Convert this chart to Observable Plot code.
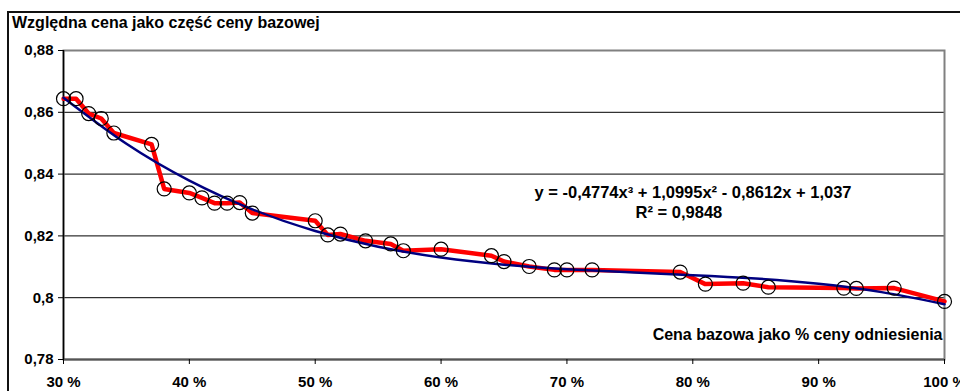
<!DOCTYPE html>
<html>
<head>
<meta charset="utf-8">
<script src="https://cdn.jsdelivr.net/npm/d3@7"></script>
<script src="https://cdn.jsdelivr.net/npm/@observablehq/plot@0.6"></script>
<style>
  html, body { margin: 0; padding: 0; background: #fff; overflow: hidden; }
  #wrap { position: relative; width: 960px; height: 391px; overflow: hidden; font-family: "Liberation Sans", Arial, sans-serif; }
  #frame { position: absolute; left: 7px; top: 11px; width: 1100px; height: 600px; border: 2px solid #111; box-sizing: border-box; }
  #title { position: absolute; left: 12px; top: 15px; font-size: 16px; line-height: 16px; font-weight: bold; color: #000; white-space: nowrap; }
  #chart { position: absolute; left: 0; top: 36px; }
  #chart svg { overflow: visible; max-width: none; }
</style>
</head>
<body>
<div id="wrap">
  <div id="frame"></div>
  <div id="title"></div>
  <div id="chart"></div>
</div>
<script>
// ---- data ----
const titleText = "Względna cena jako część ceny bazowej";
const xAxisTitle = "Cena bazowa jako % ceny odniesienia";
const equationLine = "y = -0,4774x³ + 1,0995x² - 0,8612x + 1,037";
const rSquaredLine = "R² = 0,9848";

// base price as share of reference price
const basePct = [0.30, 0.31, 0.32, 0.33, 0.34, 0.37, 0.38, 0.40, 0.41, 0.42, 0.43, 0.44, 0.45,
                 0.50, 0.51, 0.52, 0.54, 0.56, 0.57, 0.60, 0.64, 0.65, 0.67, 0.69, 0.70, 0.72,
                 0.79, 0.81, 0.84, 0.86, 0.92, 0.93, 0.96, 1.00];
// relative price as share of base price
const relPrice = [0.8644, 0.8644, 0.8596, 0.8580, 0.8533, 0.8496, 0.8352, 0.8339, 0.8323, 0.8306, 0.8306, 0.8308, 0.8274,
                  0.8249, 0.8203, 0.8206, 0.8184, 0.8174, 0.8152, 0.8157, 0.8136, 0.8117, 0.8101, 0.8090, 0.8090, 0.8090,
                  0.8083, 0.8044, 0.8047, 0.8034, 0.8031, 0.8030, 0.8031, 0.7988];

// trend line (navy)
const trendX = [0.30, 0.35, 0.40, 0.45, 0.50, 0.55, 0.60, 0.65, 0.70, 0.75, 0.80, 0.85, 0.90, 0.95, 1.00];
const trendY = [0.8647, 0.8498, 0.8379, 0.8286, 0.8216, 0.8165, 0.8130, 0.8107, 0.8092, 0.8082, 0.8073, 0.8062, 0.8045, 0.8018, 0.7979];

const yTicks = [0.78, 0.80, 0.82, 0.84, 0.86, 0.88];
const yTickLabels = ["0,78", "0,8", "0,82", "0,84", "0,86", "0,88"];
const gridValues = [0.80, 0.82, 0.84, 0.86];
const xTicks = [0.3, 0.4, 0.5, 0.6, 0.7, 0.8, 0.9, 1.0];
const xTickLabels = ["30 %", "40 %", "50 %", "60 %", "70 %", "80 %", "90 %", "100 %"];

// ---- tables built from arrays ----
const points = basePct.map((x, i) => ({x, y: relPrice[i]}));
const trend = trendX.map((x, i) => ({x, y: trendY[i]}));

document.getElementById("title").textContent = titleText;

const font = "'Liberation Sans', Arial, sans-serif";

const chart = Plot.plot({
  width: 960,
  height: 355,
  marginTop: 14,
  marginBottom: 32,
  marginLeft: 63,
  marginRight: 16,
  style: {fontFamily: font, fontSize: "15px", fontWeight: "bold", color: "#000", background: "transparent", overflow: "visible"},
  x: {domain: [0.3, 1.0]},
  y: {domain: [0.78, 0.88]},
  marks: [
    Plot.ruleY(gridValues, {stroke: "#000", strokeWidth: 1}),
    Plot.frame({stroke: "#808080", strokeWidth: 2}),
    Plot.ruleY([0.78], {stroke: "#555", strokeWidth: 2}),
    Plot.ruleX([0.3], {stroke: "#000", strokeWidth: 1.5}),
    Plot.axisY({
      ticks: yTicks,
      tickFormat: (d) => yTickLabels[yTicks.findIndex(t => Math.abs(t - d) < 1e-9)],
      tickSize: 5, tickPadding: 5, stroke: "#000",
      fontSize: 15, fontWeight: "bold", fill: "#000", label: null
    }),
    Plot.axisX({
      ticks: xTicks,
      tickFormat: (d) => xTickLabels[xTicks.findIndex(t => Math.abs(t - d) < 1e-9)],
      tickSize: 5, tickPadding: 12, stroke: "#000",
      fontSize: 15, fontWeight: "bold", fill: "#000", label: null
    }),
    Plot.line(points, {x: "x", y: "y", stroke: "#ff0000", strokeWidth: 4.5, strokeLinejoin: "round"}),
    Plot.line(trend, {x: "x", y: "y", stroke: "#000080", strokeWidth: 2.5, curve: "natural"}),
    Plot.dot(points, {x: "x", y: "y", r: 7, stroke: "#000", strokeWidth: 1.2, fill: "none"}),
    Plot.text([equationLine], {
      x: 0.8002, y: 0.8339, textAnchor: "middle",
      fontSize: 16.5, fontWeight: "bold", fill: "#000"
    }),
    Plot.text([rSquaredLine], {
      x: 0.789, y: 0.8274, textAnchor: "middle",
      fontSize: 16.5, fontWeight: "bold", fill: "#000"
    }),
    Plot.text([xAxisTitle], {
      frameAnchor: "bottom-right", dx: -2, dy: -20, textAnchor: "end",
      fontSize: 16, fontWeight: "bold", fill: "#000"
    })
  ]
});
document.getElementById("chart").appendChild(chart);
</script>
</body>
</html>
